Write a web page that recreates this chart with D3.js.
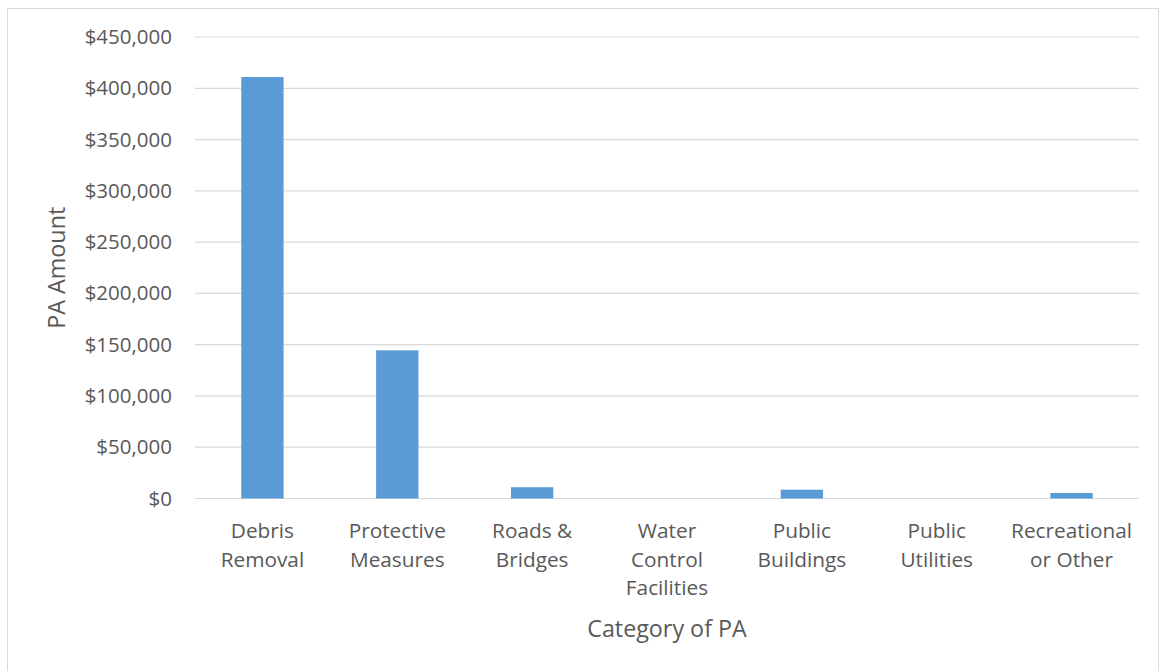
<!DOCTYPE html>
<html>
<head>
<meta charset="utf-8">
<script src="https://cdn.jsdelivr.net/npm/d3@7"></script>
<style>
  html, body { margin: 0; padding: 0; background: #fff; }
  svg { display: block; }
  text { font-family: "Open Sans", Lato, sans-serif; fill: #595959; }
</style>
</head>
<body>
<svg id="chart" width="1159" height="671"></svg>
<script>
// Public Assistance amounts by category
const categories = [
  ["Debris", "Removal"],
  ["Protective", "Measures"],
  ["Roads &", "Bridges"],
  ["Water", "Control", "Facilities"],
  ["Public", "Buildings"],
  ["Public", "Utilities"],
  ["Recreational", "or Other"]
];
const amounts = [411000, 144500, 11000, 0, 8600, 0, 5400];
const yTicks = [0, 50000, 100000, 150000, 200000, 250000, 300000, 350000, 400000, 450000];

const svg = d3.select("#chart");
const W = 1159, H = 671;
const m = { left: 195, right: 20, top: 37, bottom: 172.5 };
const FONT = "'Open Sans', Lato, sans-serif";

// outer chart frame
svg.append("rect")
  .attr("x", 7.5).attr("y", 8.5)
  .attr("width", W - 8).attr("height", H - 8)
  .attr("fill", "none").attr("stroke", "#d9d9d9").attr("stroke-width", 1);

const x = d3.scaleBand()
  .domain(d3.range(categories.length))
  .range([m.left, W - m.right])
  .paddingInner(0.686).paddingOuter(0.343);

const y = d3.scaleLinear()
  .domain([0, 450000])
  .range([H - m.bottom, m.top]);

// horizontal gridlines
svg.append("g")
  .selectAll("line")
  .data(yTicks)
  .join("line")
  .attr("x1", m.left).attr("x2", W - m.right)
  .attr("y1", d => y(d)).attr("y2", d => y(d))
  .attr("stroke", "#d9d9d9").attr("stroke-width", 1.2);

// y axis labels
const fmt = d3.format("$,");
const yAxis = d3.axisLeft(y).tickValues(yTicks).tickFormat(d => fmt(d)).tickSize(0).tickPadding(23);
const gy = svg.append("g").attr("transform", `translate(${m.left},0)`).call(yAxis);
gy.select(".domain").remove();
gy.selectAll("text")
  .style("font-family", FONT)
  .style("font-size", "20.5px")
  .attr("fill", "#595959");

// bars
svg.append("g")
  .selectAll("rect")
  .data(amounts)
  .join("rect")
  .attr("x", (d, i) => x(i))
  .attr("width", x.bandwidth())
  .attr("y", d => y(d))
  .attr("height", d => y(0) - y(d))
  .attr("fill", "#5b9bd5");

// category labels
const xl = svg.append("g");
categories.forEach((lines, i) => {
  const t = xl.append("text")
    .attr("text-anchor", "middle")
    .attr("x", x(i) + x.bandwidth() / 2)
    .attr("y", 538)
    .style("font-size", "20.8px");
  lines.forEach((ln, j) => {
    t.append("tspan")
      .attr("x", x(i) + x.bandwidth() / 2)
      .attr("dy", j === 0 ? 0 : 28.5)
      .text(ln);
  });
});

// axis titles
svg.append("text")
  .attr("text-anchor", "middle")
  .attr("x", (m.left + W - m.right) / 2)
  .attr("y", 637)
  .style("font-size", "23.3px")
  .text("Category of PA");

svg.append("text")
  .attr("text-anchor", "middle")
  .attr("transform", `translate(65,${(m.top + H - m.bottom) / 2}) rotate(-90)`)
  .style("font-size", "23.3px")
  .text("PA Amount");
</script>
</body>
</html>
